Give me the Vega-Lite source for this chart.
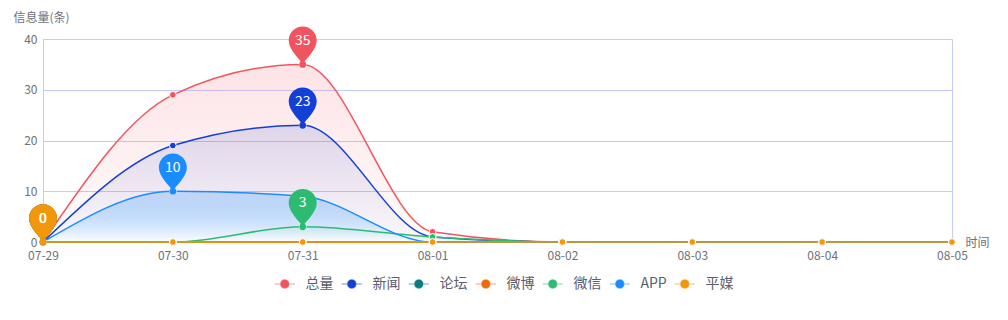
{
  "$schema": "https://vega.github.io/schema/vega-lite/v6.json",
  "width": 909,
  "height": 203,
  "autosize": {"type": "none"},
  "padding": {"left": 43, "top": 39, "right": 56, "bottom": 78},
  "background": "white",
  "config": {
    "font": "Noto Sans CJK SC",
    "view": {"stroke": "#c3cbff", "strokeWidth": 1}
  },
  "data": {
    "values": [
      {"date": "07-29", "series": "总量", "value": 0},
      {"date": "07-30", "series": "总量", "value": 29},
      {"date": "07-31", "series": "总量", "value": 35},
      {"date": "08-01", "series": "总量", "value": 2},
      {"date": "08-02", "series": "总量", "value": 0},
      {"date": "08-03", "series": "总量", "value": 0},
      {"date": "08-04", "series": "总量", "value": 0},
      {"date": "08-05", "series": "总量", "value": 0},
      {"date": "07-29", "series": "新闻", "value": 0},
      {"date": "07-30", "series": "新闻", "value": 19},
      {"date": "07-31", "series": "新闻", "value": 23},
      {"date": "08-01", "series": "新闻", "value": 1},
      {"date": "08-02", "series": "新闻", "value": 0},
      {"date": "08-03", "series": "新闻", "value": 0},
      {"date": "08-04", "series": "新闻", "value": 0},
      {"date": "08-05", "series": "新闻", "value": 0},
      {"date": "07-29", "series": "论坛", "value": 0},
      {"date": "07-30", "series": "论坛", "value": 0},
      {"date": "07-31", "series": "论坛", "value": 0},
      {"date": "08-01", "series": "论坛", "value": 0},
      {"date": "08-02", "series": "论坛", "value": 0},
      {"date": "08-03", "series": "论坛", "value": 0},
      {"date": "08-04", "series": "论坛", "value": 0},
      {"date": "08-05", "series": "论坛", "value": 0},
      {"date": "07-29", "series": "微博", "value": 0},
      {"date": "07-30", "series": "微博", "value": 0},
      {"date": "07-31", "series": "微博", "value": 0},
      {"date": "08-01", "series": "微博", "value": 0},
      {"date": "08-02", "series": "微博", "value": 0},
      {"date": "08-03", "series": "微博", "value": 0},
      {"date": "08-04", "series": "微博", "value": 0},
      {"date": "08-05", "series": "微博", "value": 0},
      {"date": "07-29", "series": "微信", "value": 0},
      {"date": "07-30", "series": "微信", "value": 0},
      {"date": "07-31", "series": "微信", "value": 3},
      {"date": "08-01", "series": "微信", "value": 1},
      {"date": "08-02", "series": "微信", "value": 0},
      {"date": "08-03", "series": "微信", "value": 0},
      {"date": "08-04", "series": "微信", "value": 0},
      {"date": "08-05", "series": "微信", "value": 0},
      {"date": "07-29", "series": "APP", "value": 0},
      {"date": "07-30", "series": "APP", "value": 10},
      {"date": "07-31", "series": "APP", "value": 9},
      {"date": "08-01", "series": "APP", "value": 0},
      {"date": "08-02", "series": "APP", "value": 0},
      {"date": "08-03", "series": "APP", "value": 0},
      {"date": "08-04", "series": "APP", "value": 0},
      {"date": "08-05", "series": "APP", "value": 0},
      {"date": "07-29", "series": "平媒", "value": 0},
      {"date": "07-30", "series": "平媒", "value": 0},
      {"date": "07-31", "series": "平媒", "value": 0},
      {"date": "08-01", "series": "平媒", "value": 0},
      {"date": "08-02", "series": "平媒", "value": 0},
      {"date": "08-03", "series": "平媒", "value": 0},
      {"date": "08-04", "series": "平媒", "value": 0},
      {"date": "08-05", "series": "平媒", "value": 0}
    ]
  },
  "encoding": {
    "x": {
      "field": "date", "type": "ordinal",
      "scale": {"type": "point", "padding": 0},
      "axis": {
        "labelAngle": 0, "domain": false, "ticks": false,
        "labelColor": "#6e7079", "labelFontSize": 12, "labelPadding": 8,
        "title": "时间", "titleX": 922, "titleY": 0, "titleAlign": "left", "titleBaseline": "middle",
        "titleFontWeight": "normal", "titleColor": "#6e7079", "titleFontSize": 12
      }
    },
    "y": {
      "field": "value", "type": "quantitative",
      "scale": {"domain": [0, 40]},
      "axis": {
        "values": [0, 10, 20, 30, 40],
        "gridColor": "#c3cbff", "domainColor": "#c3cbff", "ticks": false,
        "labelColor": "#6e7079", "labelFontSize": 12, "labelPadding": 6,
        "title": "信息量(条)", "titleAngle": 0, "titleX": -30, "titleY": -22,
        "titleAlign": "left", "titleBaseline": "middle",
        "titleFontWeight": "normal", "titleColor": "#6e7079", "titleFontSize": 12
      }
    }
  },
  "layer": [
    {
      "transform": [{"filter": "datum.series === '总量'"}],
      "mark": {"type": "area", "interpolate": "monotone",
        "color": {"gradient": "linear", "x1": 0, "y1": 0, "x2": 0, "y2": 1,
          "stops": [{"offset": 0, "color": "rgba(242,84,98,0.16)"}, {"offset": 1, "color": "rgba(242,84,98,0.02)"}]}}
    },
    {
      "transform": [{"filter": "datum.series === '新闻'"}],
      "mark": {"type": "area", "interpolate": "monotone",
        "color": {"gradient": "linear", "x1": 0, "y1": 0, "x2": 0, "y2": 1,
          "stops": [{"offset": 0, "color": "rgba(20,60,200,0.13)"}, {"offset": 1, "color": "rgba(20,60,200,0.02)"}]}}
    },
    {
      "transform": [{"filter": "datum.series === '微信'"}],
      "mark": {"type": "area", "interpolate": "monotone",
        "color": {"gradient": "linear", "x1": 0, "y1": 0, "x2": 0, "y2": 1,
          "stops": [{"offset": 0, "color": "rgba(45,185,115,0.15)"}, {"offset": 1, "color": "rgba(45,185,115,0.02)"}]}}
    },
    {
      "transform": [{"filter": "datum.series === 'APP'"}],
      "mark": {"type": "area", "interpolate": "monotone",
        "color": {"gradient": "linear", "x1": 0, "y1": 0, "x2": 0, "y2": 1,
          "stops": [{"offset": 0, "color": "rgba(26,140,255,0.2)"}, {"offset": 1, "color": "rgba(255,255,255,0.7)"}]}}
    },
    {
      "mark": {"type": "line", "interpolate": "monotone", "strokeWidth": 1.5},
      "encoding": {
        "color": {
          "field": "series", "type": "nominal",
          "scale": {
            "domain": ["总量", "新闻", "论坛", "微博", "微信", "APP", "平媒"],
            "range": ["#f2545f", "#1240d6", "#0b7a80", "#f0680a", "#2dbb72", "#1a8cff", "#f0980a"]
          },
          "legend": {
            "orient": "none", "legendX": 232, "legendY": 238,
            "direction": "horizontal", "columns": 7, "title": null,
            "symbolType": "M-2.4,0 L-1,0 M1,0 L2.4,0 M1,0 A1,1 0 1 1 -1,0 A1,1 0 1 1 1,0 Z",
            "symbolSize": 70, "symbolOffset": 2.8, "labelOffset": 13.6, "columnPadding": 5,
            "symbolStrokeWidth": 1.2,
            "labelFontSize": 14, "labelColor": "#5a5e6e", "labelFont": "Noto Sans CJK SC",
            "encode": {"symbols": {"update": {
              "fill": {"scale": "color", "field": "value"},
              "stroke": {"scale": "color", "field": "value"},
              "strokeOpacity": {"value": 0.6},
              "opacity": {"value": 1}
            }}}
          }
        }
      }
    },
    {
      "mark": {"type": "point", "filled": true, "size": 45, "opacity": 1, "stroke": "white", "strokeWidth": 1},
      "encoding": {
        "color": {"field": "series", "type": "nominal"},
        "stroke": {"value": "white"}
      }
    },
    {
      "transform": [
        {"joinaggregate": [{"op": "max", "field": "value", "as": "vmax"}], "groupby": ["series"]},
        {"filter": "datum.value === datum.vmax"},
        {"window": [{"op": "row_number", "as": "rn"}], "groupby": ["series"]},
        {"filter": "datum.rn === 1"}
      ],
      "layer": [
        {
          "mark": {"type": "point", "filled": true, "opacity": 1, "size": 784,
            "shape": "M0,0 C-0.2,-0.4 -1,-1 -1,-1.7 A1,1 0 1 1 1,-1.7 C1,-1 0.2,-0.4 0,0 Z"},
          "encoding": {"color": {"field": "series", "type": "nominal"}}
        },
        {
          "mark": {"type": "point", "filled": true, "size": 45, "opacity": 1},
          "encoding": {"color": {"field": "series", "type": "nominal"}}
        },
        {
          "mark": {"type": "text", "dy": -23.5, "color": "white", "fontSize": 14, "baseline": "middle", "align": "center"},
          "encoding": {"text": {"field": "value", "type": "quantitative"}}
        }
      ]
    }
  ]
}
